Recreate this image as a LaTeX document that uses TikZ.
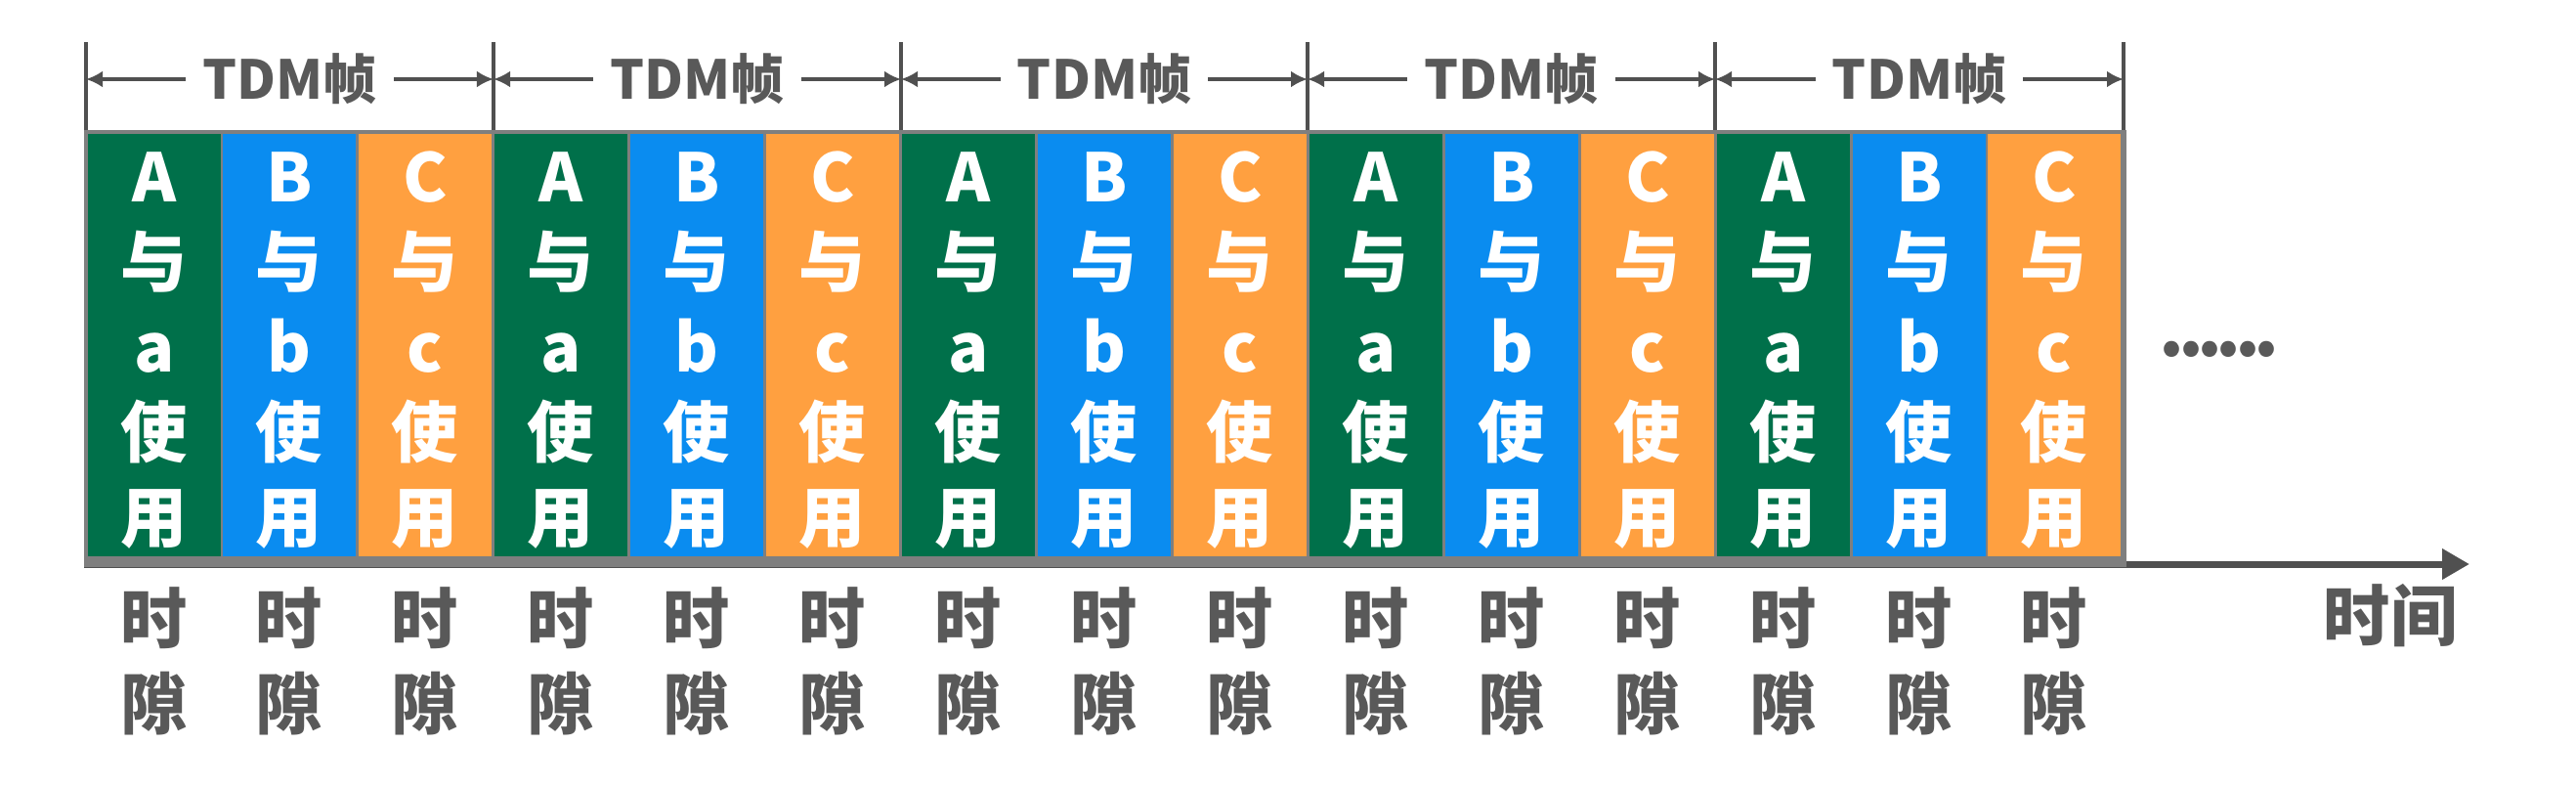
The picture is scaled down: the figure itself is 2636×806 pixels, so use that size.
\documentclass[tikz,border=0pt]{standalone}
\usepackage{fontspec}
\setmainfont{Noto Sans CJK SC}
\usetikzlibrary{arrows.meta}
\definecolor{SlotGreen}{HTML}{00704A}
\definecolor{SlotBlue}{HTML}{0A8CF0}
\definecolor{SlotOrange}{HTML}{FFA040}
\definecolor{FrameGray}{HTML}{7F7F7F}
\definecolor{InkGray}{HTML}{595959}
\definecolor{AxisGray}{HTML}{505050}
\tikzset{
  slot/.style={fill=#1,minimum width=1.35cm,minimum height=4.32cm,inner sep=0pt,outer sep=0pt,
    text=white,align=center,text height=4.10cm,text depth=0.08cm,font=\bfseries\fontsize{19.4}{24.7}\selectfont},
  slotlabel/.style={text=InkGray,align=center,inner sep=0pt,font=\bfseries\fontsize{19.4}{24.7}\selectfont},
  framelabel/.style={fill=white,text=InkGray,inner xsep=0.17cm,inner ysep=0pt,font=\bfseries\fontsize{15.6}{20}\selectfont},
  dimline/.style={AxisGray,line width=0.04cm,{Latex[length=0.17cm,width=0.17cm]}-{Latex[length=0.17cm,width=0.17cm]}},
  tickline/.style={AxisGray,line width=0.04cm},
  timeaxis/.style={AxisGray,line width=0.07cm,-{Triangle[length=0.28cm,width=0.3cm]}},
}

\begin{document}
\begin{tikzpicture}[x=0.01cm,y=-0.01cm]
    \useasboundingbox (0,0) rectangle (2636,806);
    % time axis and slot frame
    \coordinate (origin) at (86,577);
    \coordinate (tend) at (2527,577);
    \draw[timeaxis] (origin) -- (tend);
    \fill[FrameGray] (86,133) rectangle (2176,580);
    % TDM frame marks
    \coordinate (t0) at (88,81);
    \coordinate (t1) at (505,81);
    \coordinate (t2) at (922,81);
    \coordinate (t3) at (1338,81);
    \coordinate (t4) at (1755,81);
    \coordinate (t5) at (2173,81);
    \draw[tickline] (t0) ++(0,-38) -- ++(0,90);
    \draw[tickline] (t1) ++(0,-38) -- ++(0,90);
    \draw[tickline] (t2) ++(0,-38) -- ++(0,90);
    \draw[tickline] (t3) ++(0,-38) -- ++(0,90);
    \draw[tickline] (t4) ++(0,-38) -- ++(0,90);
    \draw[tickline] (t5) ++(0,-38) -- ++(0,90);
    \draw[dimline] (t0) -- node[framelabel] (f1) {TDM帧} (t1);
    \draw[dimline] (t1) -- node[framelabel] (f2) {TDM帧} (t2);
    \draw[dimline] (t2) -- node[framelabel] (f3) {TDM帧} (t3);
    \draw[dimline] (t3) -- node[framelabel] (f4) {TDM帧} (t4);
    \draw[dimline] (t4) -- node[framelabel] (f5) {TDM帧} (t5);
    % time slots
    \node[slot=SlotGreen] (s1) at (158,353) {A\\与\\a\\使\\用};
    \node[slot=SlotBlue] (s2) at (296,353) {B\\与\\b\\使\\用};
    \node[slot=SlotOrange] (s3) at (435,353) {C\\与\\c\\使\\用};
    \node[slot=SlotGreen] (s4) at (574,353) {A\\与\\a\\使\\用};
    \node[slot=SlotBlue] (s5) at (713,353) {B\\与\\b\\使\\用};
    \node[slot=SlotOrange] (s6) at (852,353) {C\\与\\c\\使\\用};
    \node[slot=SlotGreen] (s7) at (991,353) {A\\与\\a\\使\\用};
    \node[slot=SlotBlue] (s8) at (1130,353) {B\\与\\b\\使\\用};
    \node[slot=SlotOrange] (s9) at (1269,353) {C\\与\\c\\使\\用};
    \node[slot=SlotGreen] (s10) at (1408,353) {A\\与\\a\\使\\用};
    \node[slot=SlotBlue] (s11) at (1547,353) {B\\与\\b\\使\\用};
    \node[slot=SlotOrange] (s12) at (1686,353) {C\\与\\c\\使\\用};
    \node[slot=SlotGreen] (s13) at (1825,353) {A\\与\\a\\使\\用};
    \node[slot=SlotBlue] (s14) at (1964,353) {B\\与\\b\\使\\用};
    \node[slot=SlotOrange] (s15) at (2102,353) {C\\与\\c\\使\\用};
    % slot labels
    \node[slotlabel] (l1) at (158,676) {时\\隙};
    \node[slotlabel] (l2) at (296,676) {时\\隙};
    \node[slotlabel] (l3) at (435,676) {时\\隙};
    \node[slotlabel] (l4) at (574,676) {时\\隙};
    \node[slotlabel] (l5) at (713,676) {时\\隙};
    \node[slotlabel] (l6) at (852,676) {时\\隙};
    \node[slotlabel] (l7) at (991,676) {时\\隙};
    \node[slotlabel] (l8) at (1130,676) {时\\隙};
    \node[slotlabel] (l9) at (1269,676) {时\\隙};
    \node[slotlabel] (l10) at (1408,676) {时\\隙};
    \node[slotlabel] (l11) at (1547,676) {时\\隙};
    \node[slotlabel] (l12) at (1686,676) {时\\隙};
    \node[slotlabel] (l13) at (1825,676) {时\\隙};
    \node[slotlabel] (l14) at (1964,676) {时\\隙};
    \node[slotlabel] (l15) at (2102,676) {时\\隙};
    \node[slotlabel,anchor=base,font=\bfseries\fontsize{21}{24}\selectfont] (more) at (2271,364)
      {.\kern-0.066cm.\kern-0.066cm.\kern-0.066cm.\kern-0.066cm.\kern-0.066cm.};
    \node[slotlabel] (tlabel) at (2446,630) {时间};
\end{tikzpicture}
\end{document}
